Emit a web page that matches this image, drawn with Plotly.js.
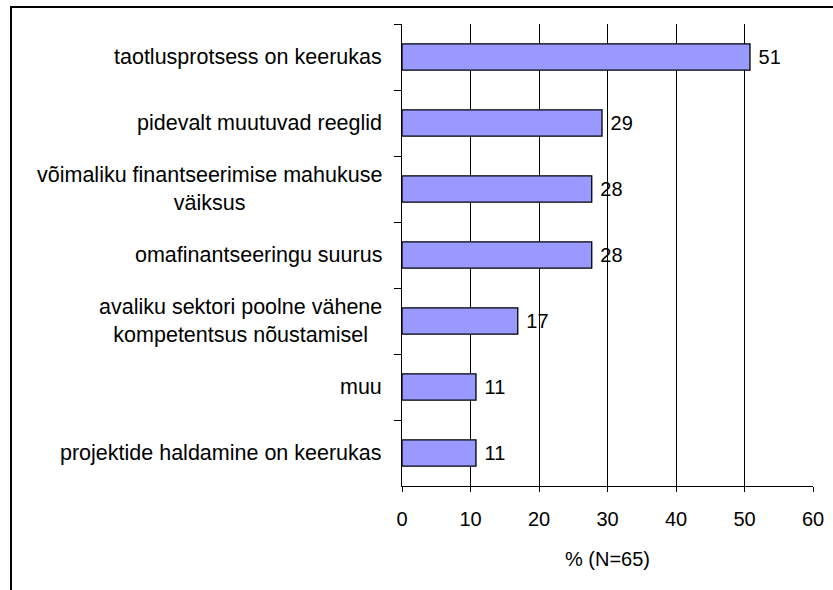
<!DOCTYPE html>
<html>
<head>
<meta charset="utf-8">
<script src="https://cdn.plot.ly/plotly-3.0.1.min.js"></script>
<style>
html,body{margin:0;padding:0;background:#fff;width:833px;height:590px;overflow:hidden;}
#frame{position:absolute;left:10px;top:6px;width:900px;height:700px;border-left:2px solid #000;border-top:2px solid #000;}
#chart{position:absolute;left:0;top:0;width:833px;height:590px;}
</style>
</head>
<body>
<div id="frame"></div>
<div id="chart"></div>
<script>
// Data
var categories = [
  "taotlusprotsess on keerukas",
  "pidevalt muutuvad reeglid",
  "võimaliku finantseerimise mahukuse<br>väiksus",
  "omafinantseeringu suurus",
  "avaliku sektori poolne vähene<br>kompetentsus nõustamisel",
  "muu",
  "projektide haldamine on keerukas"
];
var values = [50.8, 29.2, 27.7, 27.7, 16.9, 10.8, 10.8];
var valueLabels = ["51", "29", "28", "28", "17", "11", "11"];
var xTickValues = [0, 10, 20, 30, 40, 50, 60];
var xTitle = "% (N=65)";

var FONT = "'Liberation Sans', Arial, sans-serif";

var trace = {
  type: "bar",
  orientation: "h",
  y: categories,
  x: values,
  text: valueLabels.map(function(t){ return "\u00a0" + t; }),
  textposition: "outside",
  textfont: {family: FONT, size: 20, color: "#000"},
  constraintext: "none",
  cliponaxis: false,
  marker: {color: "#9999FF", line: {color: "#000", width: 1.3}},
  hoverinfo: "none"
};

var annotations = categories.map(function(c){
  return {
    x: 0, xref: "paper", y: c, yref: "y",
    text: c, showarrow: false,
    xanchor: "right", yanchor: "middle", align: "center",
    xshift: -18,
    font: {family: FONT, size: 21.5, color: "#000"}
  };
});

var layout = {
  width: 833, height: 590,
  margin: {l: 402, r: 20, t: 24, b: 104, pad: 0},
  paper_bgcolor: "rgba(0,0,0,0)",
  plot_bgcolor: "rgba(0,0,0,0)",
  showlegend: false,
  bargap: 0.6,
  font: {family: FONT, size: 20, color: "#000"},
  xaxis: {
    range: [0, 60],
    tickvals: xTickValues,
    showgrid: true, gridcolor: "#000", gridwidth: 1,
    showline: true, linecolor: "#000", linewidth: 1,
    zeroline: false,
    ticks: "outside", ticklen: 5, tickcolor: "#000", tickwidth: 1,
    ticklabelstandoff: 10,
    tickfont: {family: FONT, size: 20, color: "#000"},
    title: {text: xTitle, font: {family: FONT, size: 20, color: "#000"}, standoff: 22},
    fixedrange: true
  },
  yaxis: {
    type: "category",
    autorange: false,
    range: [categories.length - 0.5, -0.5],
    showline: true, linecolor: "#000", linewidth: 1,
    showgrid: false, zeroline: false,
    ticks: "outside", tickson: "boundaries", ticklen: 7, tickcolor: "#000", tickwidth: 1,
    showticklabels: false,
    fixedrange: true
  },
  annotations: annotations
};

Plotly.newPlot("chart", [trace], layout, {staticPlot: true, displayModeBar: false});
</script>
</body>
</html>
